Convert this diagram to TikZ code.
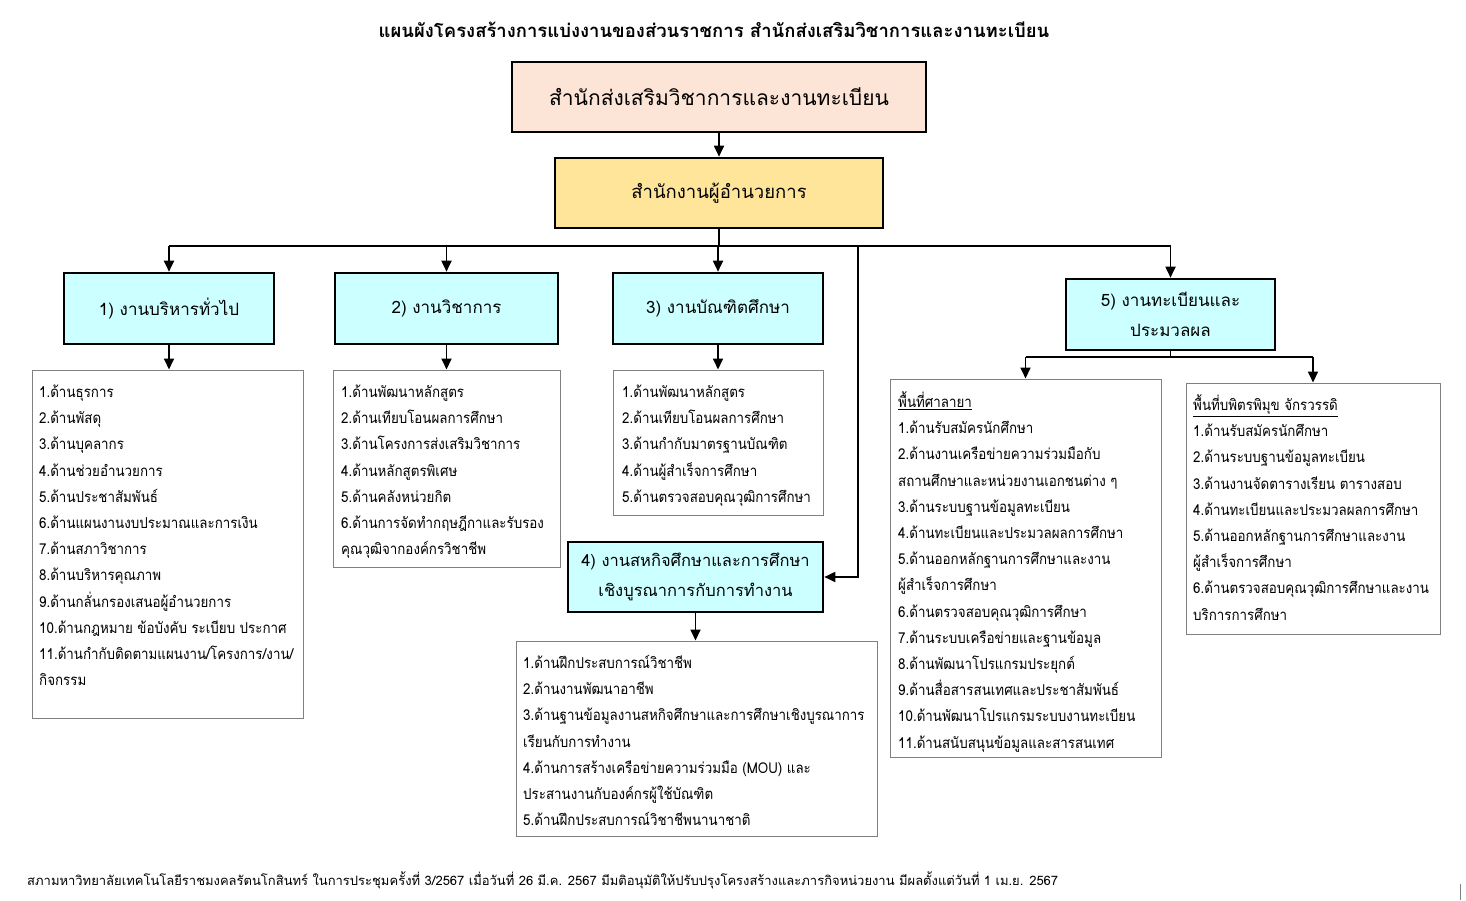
\documentclass[tikz,border=0pt]{standalone}
\usepackage{fontspec}
\setmainfont[Script=Thai]{Loma}
\newfontfamily\listfont[Script=Thai,FakeStretch=0.89]{Loma}
\usetikzlibrary{arrows.meta}
\definecolor{peach}{RGB}{252,228,214}
\definecolor{lyellow}{RGB}{255,229,153}
\definecolor{lcyan}{RGB}{204,255,255}
\definecolor{listgray}{RGB}{128,128,128}
\begin{document}
\begin{tikzpicture}[x=1pt,y=-1pt,
  headbox/.style={draw=black, line width=2.6pt, align=center, inner sep=0pt},
  unitbox/.style={headbox, fill=lcyan, font=\fontsize{17}{30}\selectfont},
  listbox/.style={draw=listgray, line width=1pt, fill=white, inner sep=0pt},
  listtext/.style={anchor=north west, inner sep=0pt, align=left, font=\listfont\fontsize{15}{26.2}\selectfont},
  conn/.style={line width=1.8pt, draw=black},
  arr/.style={conn, -{Triangle[length=11pt,width=10pt]}}]
\useasboundingbox (0,0) rectangle (1466,900);
\fill[white] (0,0) rectangle (1466,900);

% title
\node[font=\bfseries\fontsize{18.5}{22}\selectfont] (title) at (714,30) {แผนผังโครงสร้างการแบ่งงานของส่วนราชการ สำนักส่งเสริมวิชาการและงานทะเบียน};

% head boxes
\node[headbox, fill=peach, minimum width=414pt, minimum height=70pt, font=\fontsize{21}{25}\selectfont] (top) at (719,97) {สำนักส่งเสริมวิชาการและงานทะเบียน};
\node[headbox, fill=lyellow, minimum width=328pt, minimum height=70pt, font=\fontsize{18.5}{22}\selectfont] (dir) at (719,193) {สำนักงานผู้อำนวยการ};

% unit boxes
\node[unitbox, minimum width=210pt, minimum height=71pt] (u1) at (169,308.5) {1) งานบริหารทั่วไป};
\node[unitbox, minimum width=223pt, minimum height=71pt] (u2) at (446.5,308.5) {2) งานวิชาการ};
\node[unitbox, minimum width=210pt, minimum height=71pt] (u3) at (718,308.5) {3) งานบัณฑิตศึกษา};
\node[unitbox, minimum width=209pt, minimum height=71pt] (u5) at (1170.5,314.5) {5) งานทะเบียนและ\\ประมวลผล};
\node[unitbox, minimum width=255pt, minimum height=70pt, font=\fontsize{16.5}{30}\selectfont] (u4) at (695.5,577) {4) งานสหกิจศึกษาและการศึกษา\\เชิงบูรณาการกับการทำงาน};

% list boxes
\node[listbox, minimum width=271pt, minimum height=348pt] (l1) at (167.5,544) {};
\node[listbox, minimum width=227pt, minimum height=197pt] (l2) at (446.5,468.5) {};
\node[listbox, minimum width=210pt, minimum height=145pt] (l3) at (718,442.5) {};
\node[listbox, minimum width=361pt, minimum height=195pt] (l4) at (696.5,738.5) {};
\node[listbox, minimum width=271pt, minimum height=378pt] (l5a) at (1025.5,568) {};
\node[listbox, minimum width=254pt, minimum height=251pt] (l5b) at (1313,508.5) {};

\node[listtext] (t1) at (39,379) {\strut 1.ด้านธุรการ\\2.ด้านพัสดุ\\3.ด้านบุคลากร\\4.ด้านช่วยอำนวยการ\\5.ด้านประชาสัมพันธ์\\6.ด้านแผนงานงบประมาณและการเงิน\\7.ด้านสภาวิชาการ\\8.ด้านบริหารคุณภาพ\\9.ด้านกลั่นกรองเสนอผู้อำนวยการ\\10.ด้านกฎหมาย ข้อบังคับ ระเบียบ ประกาศ\\11.ด้านกำกับติดตามแผนงาน/โครงการ/งาน/\\กิจกรรม};
\node[listtext] (t2) at (341,379) {\strut 1.ด้านพัฒนาหลักสูตร\\2.ด้านเทียบโอนผลการศึกษา\\3.ด้านโครงการส่งเสริมวิชาการ\\4.ด้านหลักสูตรพิเศษ\\5.ด้านคลังหน่วยกิต\\6.ด้านการจัดทำกฤษฎีกาและรับรอง\\คุณวุฒิจากองค์กรวิชาชีพ};
\node[listtext] (t3) at (622,379) {\strut 1.ด้านพัฒนาหลักสูตร\\2.ด้านเทียบโอนผลการศึกษา\\3.ด้านกำกับมาตรฐานบัณฑิต\\4.ด้านผู้สำเร็จการศึกษา\\5.ด้านตรวจสอบคุณวุฒิการศึกษา};
\node[listtext] (t4) at (523,650) {\strut 1.ด้านฝึกประสบการณ์วิชาชีพ\\2.ด้านงานพัฒนาอาชีพ\\3.ด้านฐานข้อมูลงานสหกิจศึกษาและการศึกษาเชิงบูรณาการ\\เรียนกับการทำงาน\\4.ด้านการสร้างเครือข่ายความร่วมมือ (MOU) และ\\ประสานงานกับองค์กรผู้ใช้บัณฑิต\\5.ด้านฝึกประสบการณ์วิชาชีพนานาชาติ};
\node[listtext] (t5a) at (898,389) {\strut\underline{พื้นที่ศาลายา}\\1.ด้านรับสมัครนักศึกษา\\2.ด้านงานเครือข่ายความร่วมมือกับ\\สถานศึกษาและหน่วยงานเอกชนต่าง ๆ\\3.ด้านระบบฐานข้อมูลทะเบียน\\4.ด้านทะเบียนและประมวลผลการศึกษา\\5.ด้านออกหลักฐานการศึกษาและงาน\\ผู้สำเร็จการศึกษา\\6.ด้านตรวจสอบคุณวุฒิการศึกษา\\7.ด้านระบบเครือข่ายและฐานข้อมูล\\8.ด้านพัฒนาโปรแกรมประยุกต์\\9.ด้านสื่อสารสนเทศและประชาสัมพันธ์\\10.ด้านพัฒนาโปรแกรมระบบงานทะเบียน\\11.ด้านสนับสนุนข้อมูลและสารสนเทศ};
\node[listtext] (t5b) at (1193,392) {\strut\underline{พื้นที่บพิตรพิมุข จักรวรรดิ}\\1.ด้านรับสมัครนักศึกษา\\2.ด้านระบบฐานข้อมูลทะเบียน\\3.ด้านงานจัดตารางเรียน ตารางสอบ\\4.ด้านทะเบียนและประมวลผลการศึกษา\\5.ด้านออกหลักฐานการศึกษาและงาน\\ผู้สำเร็จการศึกษา\\6.ด้านตรวจสอบคุณวุฒิการศึกษาและงาน\\บริการการศึกษา};

% footer
\node[anchor=west, inner sep=0pt, font=\fontsize{13}{16}\selectfont] (foot) at (27,880) {สภามหาวิทยาลัยเทคโนโลยีราชมงคลรัตนโกสินทร์ ในการประชุมครั้งที่ 3/2567 เมื่อวันที่ 26 มี.ค. 2567 มีมติอนุมัติให้ปรับปรุงโครงสร้างและภารกิจหน่วยงาน มีผลตั้งแต่วันที่ 1 เม.ย. 2567};

% connectors
\coordinate (bus) at (719,246);
\coordinate (busL) at (u1.north |- bus);
\coordinate (busR) at (u5.north |- bus);
\coordinate (side) at (858,246);
\coordinate (sideB) at (858,577);
\draw[arr] (top.south) -- (dir.north);
\draw[conn] (dir.south) -- (bus);
\draw[conn] (busL) -- (busR);
\draw[arr] (busL) -- (u1.north);
\draw[arr] (u2.north |- bus) -- (u2.north);
\draw[arr] (u3.north |- bus) -- (u3.north);
\draw[arr] (busR) -- (u5.north);
\draw[arr] (side) -- (sideB) -- (u4.east);
\draw[arr] (u1.south) -- (l1.north -| u1.south);
\draw[arr] (u2.south) -- (l2.north -| u2.south);
\draw[arr] (u3.south) -- (l3.north -| u3.south);
\draw[arr] (u4.south) -- (l4.north -| u4.south);
\coordinate (fork) at (1170.5,357);
\draw[conn] (u5.south) -- (fork);
\draw[conn] (l5a.north |- fork) -- (l5b.north |- fork);
\draw[arr] (l5a.north |- fork) -- (l5a.north);
\draw[arr] (l5b.north |- fork) -- (l5b.north);

% edge mark
\draw[listgray, line width=1pt] (1460,884) -- (1460,900);
\end{tikzpicture}
\end{document}
